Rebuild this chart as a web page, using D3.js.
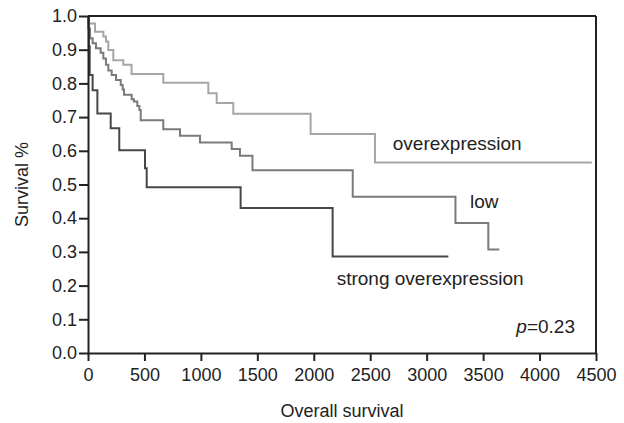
<!DOCTYPE html>
<html>
<head>
<meta charset="utf-8">
<script src="https://cdn.jsdelivr.net/npm/d3@7"></script>
<style>
  body { margin: 0; background: #fff; }
  svg { font-family: 'Liberation Sans', Arial, sans-serif; }
</style>
</head>
<body>
<svg id="chart" width="624" height="423"></svg>
<script>
// Kaplan-Meier step points (time, survival)
var overTimes = [0, 3, 62, 136, 159, 180, 224, 313, 386, 667, 1066, 1140, 1287, 1972, 2542, 4463]
var overSurv = [1.0, 0.978, 0.953, 0.939, 0.924, 0.899, 0.869, 0.855, 0.828, 0.802, 0.771, 0.742, 0.710, 0.650, 0.565, 0.565]

var lowTimes = [0, 3, 18, 41, 71, 112, 136, 159, 180, 210, 248, 290, 307, 319, 387, 407, 437, 455, 467, 667, 815, 992, 1273, 1346, 1457, 2345, 3255, 3546, 3643]
var lowSurv = [1.0, 0.963, 0.934, 0.919, 0.904, 0.891, 0.874, 0.855, 0.838, 0.825, 0.810, 0.795, 0.782, 0.766, 0.753, 0.746, 0.733, 0.721, 0.691, 0.664, 0.645, 0.625, 0.605, 0.585, 0.542, 0.464, 0.386, 0.307, 0.307]

var strongTimes = [0, 8, 15, 41, 83, 201, 277, 505, 520, 1352, 2167, 3192]
var strongSurv = [1.0, 0.91, 0.825, 0.78, 0.711, 0.667, 0.602, 0.548, 0.492, 0.430, 0.286, 0.286]

var xTicks = [0, 500, 1000, 1500, 2000, 2500, 3000, 3500, 4000, 4500]
var yTicks = [0, 0.1, 0.2, 0.3, 0.4, 0.5, 0.6, 0.7, 0.8, 0.9, 1.0]

var svg = d3.select('#chart')
var margin = {top: 16, right: 28, bottom: 70, left: 88}
var width = 624 - margin.left - margin.right
var height = 423 - margin.top - margin.bottom
var g = svg.append('g')
  .attr('transform', 'translate(' + margin.left + ',' + margin.top + ')')

var x = d3.scaleLinear().domain([0, 4500]).range([0, width])
var y = d3.scaleLinear().domain([0, 1]).range([height, 0])

var line = d3.line()
  .x((d) => x(d[0]))
  .y((d) => y(d[1]))
  .curve(d3.curveStepAfter)

function pairs (t, s) {
  return t.map((v, i) => [v, s[i]])
}

// curves
var series = [
  {d: pairs(overTimes, overSurv), c: '#a6a6a6'},
  {d: pairs(lowTimes, lowSurv), c: '#7a7a7a'},
  {d: pairs(strongTimes, strongSurv), c: '#474747'}
]
series.forEach(function (s) {
  g.append('path')
    .datum(s.d)
    .attr('fill', 'none')
    .attr('stroke', s.c)
    .attr('stroke-width', 2)
    .attr('d', line)
})

// frame top and right
g.append('line').attr('x1', 0).attr('x2', width).attr('y1', 0).attr('y2', 0)
  .attr('stroke', '#222').attr('stroke-width', 2)
g.append('line').attr('x1', width).attr('x2', width).attr('y1', 0).attr('y2', height)
  .attr('stroke', '#222').attr('stroke-width', 2)

// x axis
var xAxis = g.append('g')
  .attr('transform', 'translate(0,' + height + ')')
  .call(d3.axisBottom(x).tickValues(xTicks).tickSize(8).tickSizeOuter(0).tickPadding(7).tickFormat(d3.format('d')))
// y axis
var yAxis = g.append('g')
  .call(d3.axisLeft(y).tickValues(yTicks).tickSize(9).tickSizeOuter(0).tickPadding(2).tickFormat(d3.format('.1f')))

;[xAxis, yAxis].forEach(function (a) {
  a.selectAll('.domain').attr('stroke', '#222').attr('stroke-width', 2)
  a.selectAll('.tick line').attr('stroke', '#222').attr('stroke-width', 2)
  a.selectAll('.tick text').attr('fill', '#222').style('font-size', '18px')
})

// axis titles
svg.append('text')
  .attr('x', margin.left + width / 2)
  .attr('y', 417)
  .attr('text-anchor', 'middle')
  .attr('fill', '#222')
  .style('font-size', '18px')
  .text('Overall survival')

svg.append('text')
  .attr('transform', 'translate(28,' + (margin.top + height / 2) + ') rotate(-90)')
  .attr('text-anchor', 'middle')
  .attr('fill', '#222')
  .style('font-size', '18px')
  .text('Survival %')

// curve labels
var labels = [
  {t: 'overexpression', x: 2700, y: 0.602},
  {t: 'low', x: 3384, y: 0.43},
  {t: 'strong overexpression', x: 2203, y: 0.202}
]
labels.forEach(function (l) {
  g.append('text')
    .attr('x', x(l.x))
    .attr('y', y(l.y))
    .attr('fill', '#222')
    .style('font-size', '19px')
    .text(l.t)
})

var p = g.append('text')
  .attr('x', x(4314))
  .attr('y', y(0.059))
  .attr('text-anchor', 'end')
  .attr('fill', '#222')
  .style('font-size', '19px')
p.append('tspan').style('font-style', 'italic').text('p')
p.append('tspan').text('=0.23')
</script>
</body>
</html>
